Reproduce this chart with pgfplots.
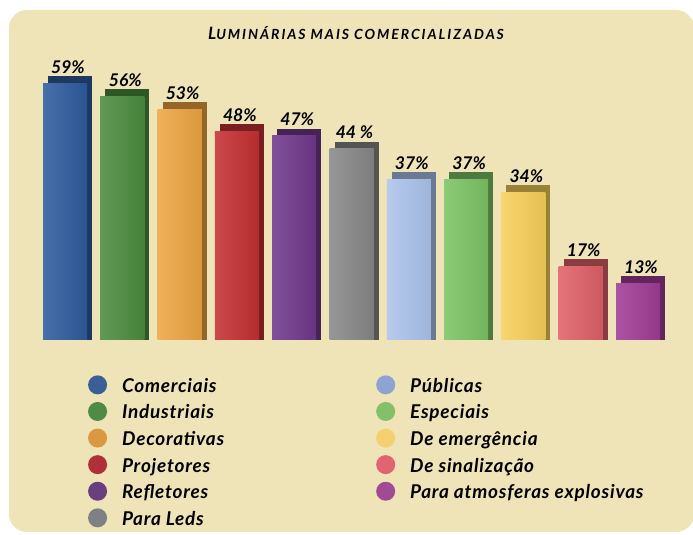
\documentclass[border=0pt]{standalone}
\usepackage{pgfplots}
\pgfplotsset{compat=1.18}
\usepackage{fontspec}
\setmainfont{Lato}
\definecolor{bg}{RGB}{238,228,183}
\definecolor{b0}{RGB}{46,92,158}
\definecolor{b1}{RGB}{76,140,62}
\definecolor{b2}{RGB}{238,166,66}
\definecolor{b3}{RGB}{196,48,50}
\definecolor{b4}{RGB}{112,56,140}
\definecolor{b5}{RGB}{136,136,136}
\definecolor{b6}{RGB}{172,196,236}
\definecolor{b7}{RGB}{124,196,100}
\definecolor{b8}{RGB}{248,208,90}
\definecolor{b9}{RGB}{224,96,104}
\definecolor{b10}{RGB}{160,60,150}
\definecolor{l0}{RGB}{58,95,149}
\definecolor{l1}{RGB}{80,138,72}
\definecolor{l2}{RGB}{218,152,64}
\definecolor{l3}{RGB}{176,48,56}
\definecolor{l4}{RGB}{106,63,128}
\definecolor{l5}{RGB}{126,129,131}
\definecolor{l6}{RGB}{142,163,210}
\definecolor{l7}{RGB}{132,192,106}
\definecolor{l8}{RGB}{245,208,112}
\definecolor{l9}{RGB}{224,101,112}
\definecolor{l10}{RGB}{160,76,149}
\newcommand{\onebar}[4]{%
  \addplot[forget plot, fill=b#1!62!black, draw=none, bar shift=5pt] coordinates {(#1,#3)};
  \addplot[fill=b#1, draw=none, bar shift=0pt, nodes near coords={#4},
    legend image code/.code={\fill[l#1] (0pt,0.3em) circle (9.5pt);}] coordinates {(#1,#2)};
  \addplot[forget plot, draw=none, left color=b#1!88!white, right color=b#1!92!black, bar shift=0pt] coordinates {(#1,#2)};
}
\begin{document}
\begin{tikzpicture}
\useasboundingbox (0pt,0pt) rectangle (693pt,535pt);
\fill[white] (0pt,0pt) rectangle (693pt,535pt);
\fill[bg, rounded corners=18pt] (9pt,3pt) rectangle (694pt,525pt);
\node[font=\bfseries\itshape] at (356pt,502pt) {\addfontfeatures{LetterSpace=14}{\fontsize{17}{17}\selectfont L}{\fontsize{14}{14}\selectfont UMINÁRIAS MAIS COMERCIALIZADAS}};
\begin{axis}[
  at={(36.35pt,195pt)}, anchor=south west,
  scale only axis, width=630.3pt, height=261pt,
  xmin=-0.5, xmax=10.5, ymin=0, ymax=60,
  axis lines=none, clip=false,
  ybar, bar width=44pt,
  every node near coord/.append style={font=\bfseries\itshape\fontsize{17.5}{17.5}\selectfont, text=black, yshift=6pt, xshift=3pt},
  legend columns=6, transpose legend,
  legend cell align=left,
  legend style={at={(0.077,-0.127)}, anchor=north west, draw=none, fill=none,
    font=\bfseries\itshape\fontsize{19}{19}\selectfont\addfontfeatures{LetterSpace=4}, row sep=2.6pt,
    nodes={text height=14pt, text depth=5pt},
    /tikz/every odd column/.append style={column sep=13pt},
    /tikz/every even column/.append style={column sep=150pt}},
  legend entries={Comerciais, Industriais, Decorativas, Projetores, Refletores, Para Leds, Públicas, Especiais, De emergência, De sinalização, Para atmosferas explosivas},
]
\onebar{0}{59}{60.6}{59\%}
\onebar{1}{56}{57.6}{56\%}
\onebar{2}{53}{54.6}{53\%}
\onebar{3}{48}{49.6}{48\%}
\onebar{4}{47}{48.6}{47\%}
\onebar{5}{44}{45.6}{44 \%}
\onebar{6}{37}{38.6}{37\%}
\onebar{7}{37}{38.6}{37\%}
\onebar{8}{34}{35.6}{34\%}
\onebar{9}{17}{18.6}{17\%}
\onebar{10}{13}{14.6}{13\%}
\end{axis}
\end{tikzpicture}
\end{document}
